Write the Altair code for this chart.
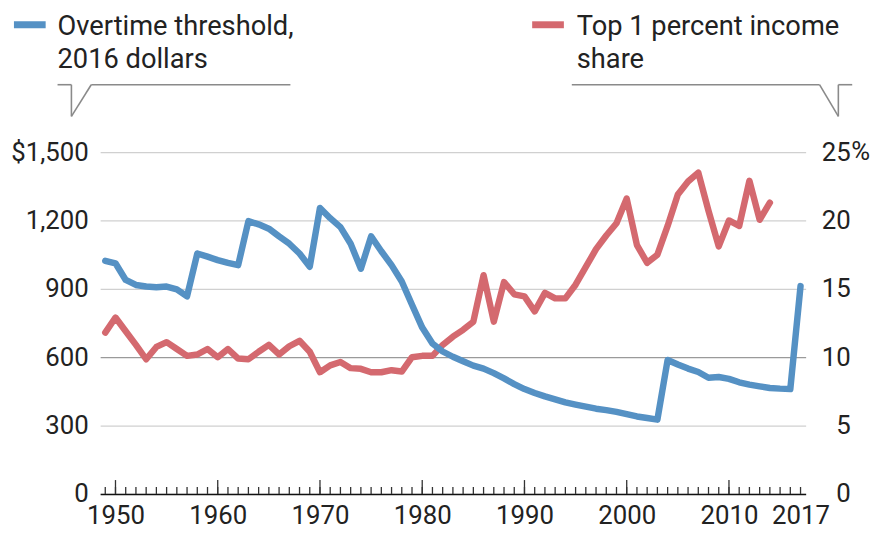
import altair as alt
import pandas as pd

# ---------------- data ----------------
ot_years = list(range(1949, 2018))
overtime = [1023, 1012, 939, 917, 910, 907, 910, 898, 867, 1055,
            1041, 1026, 1014, 1004, 1197, 1183, 1164, 1130, 1098, 1055,
            997, 1255, 1210, 1171, 1098, 988, 1130, 1065, 1004, 932,
            830, 730, 660, 625, 602, 582, 563, 550, 530, 507,
            482, 460, 443, 428, 415, 402, 392, 383, 374, 368,
            360, 350, 340, 333, 326, 588, 568, 550, 535, 510,
            513, 505, 490, 480, 472, 465, 462, 460, 912]

inc_years = list(range(1949, 2015))
income_share = [11.8, 12.9, 11.9, 10.9, 9.85, 10.75, 11.1, 10.6, 10.1, 10.2,
                10.6, 10.0, 10.6, 9.9, 9.85, 10.4, 10.9, 10.2, 10.8, 11.2,
                10.4, 8.9, 9.4, 9.65, 9.2, 9.15, 8.9, 8.9, 9.05, 8.95,
                10.0, 10.1, 10.1, 10.9, 11.5, 12.0, 12.6, 16.0, 12.6, 15.5,
                14.6, 14.45, 13.35, 14.7, 14.3, 14.3, 15.3, 16.6, 17.9, 18.9,
                19.8, 21.6, 18.2, 16.9, 17.5, 19.6, 21.9, 22.85, 23.5, 20.7,
                18.1, 20.0, 19.6, 22.9, 20.05, 21.3]

x_label_years = [1950, 1960, 1970, 1980, 1990, 2000, 2010, 2017]
minor_tick_years = list(range(1949, 2018))
major_tick_years = [1950, 1960, 1970, 1980, 1990, 2000, 2010]
left_ticks = [0, 300, 600, 900, 1200, 1500]
right_ticks = [0, 5, 10, 15, 20, 25]

legend_blue = ["Overtime threshold,", "2016 dollars"]
legend_red = ["Top 1 percent income", "share"]

# ---------------- style ----------------
BLUE = "#5591c4"
RED = "#d4696f"
TEXT = "#222222"
GRID = "#d0d0d0"
CALLOUT = "#8a8a8a"
FONT = "Roboto, sans-serif"
AXSIZE = 26
W, H = 712, 345

ot_df = pd.DataFrame({"year": ot_years, "value": overtime})
inc_df = pd.DataFrame({"year": inc_years, "share": income_share})
minor_df = pd.DataFrame({"year": minor_tick_years})
major_df = pd.DataFrame({"year": major_tick_years})
one = pd.DataFrame({"k": [0]})

xscale = alt.Scale(domain=[1948.5, 2017.5], nice=False, zero=False)
xaxis = alt.Axis(values=x_label_years, format="d", grid=False, ticks=False, tickSize=0,
                 domain=True, domainColor="#111111", domainWidth=1.6,
                 labelFontSize=AXSIZE, labelPadding=9, labelFlush=False,
                 labelFont=FONT, labelColor=TEXT, title=None)

red_line = alt.Chart(inc_df).mark_line(
    color=RED, strokeWidth=6.5, strokeJoin="round", strokeCap="round"
).encode(
    x=alt.X("year:Q", scale=xscale, axis=xaxis),
    y=alt.Y("share:Q", scale=alt.Scale(domain=[0, 25], nice=False, zero=True),
            axis=alt.Axis(orient="right", values=right_ticks, grid=False, domain=False,
                          ticks=False, tickSize=0, labelAlign="right", labelPadding=45,
                          labelFontSize=AXSIZE, labelFont=FONT, labelColor=TEXT, title=None)),
)

blue_line = alt.Chart(ot_df).mark_line(
    color=BLUE, strokeWidth=6.5, strokeJoin="round", strokeCap="round"
).encode(
    x=alt.X("year:Q", scale=xscale, axis=xaxis),
    y=alt.Y("value:Q", scale=alt.Scale(domain=[0, 1500], nice=False, zero=True),
            axis=alt.Axis(orient="left", values=left_ticks, grid=True,
                          gridColor={"condition": {"test": "datum.value === 600", "value": "#9a9a9a"},
                                     "value": GRID},
                          gridWidth=1.3, domain=False, ticks=False, tickSize=0,
                          labelPadding=12, labelFontSize=AXSIZE, labelFont=FONT, labelColor=TEXT,
                          labelExpr="datum.value == 1500 ? '$1,500' : datum.label",
                          title=None)),
)

minor_ticks = alt.Chart(minor_df).mark_rule(color="#333333", strokeWidth=1.3).encode(
    x=alt.X("year:Q", scale=xscale, axis=xaxis),
    y=alt.value(H), y2=alt.value(H - 7),
)
major_ticks = alt.Chart(major_df).mark_rule(color="#333333", strokeWidth=1.3).encode(
    x=alt.X("year:Q", scale=xscale, axis=xaxis),
    y=alt.value(H), y2=alt.value(H - 14),
)


def seg(x1, y1, x2, y2, color=CALLOUT, width=1.6):
    return alt.Chart(one).mark_rule(color=color, strokeWidth=width).encode(
        x=alt.value(x1), x2=alt.value(x2), y=alt.value(y1), y2=alt.value(y2)
    )


def label(lines, x, y, size=27.5, align="left", baseline="alphabetic"):
    return alt.Chart(one).mark_text(
        text=lines, align=align, baseline=baseline, fontSize=size, font=FONT,
        color=TEXT, lineHeight=33
    ).encode(x=alt.value(x), y=alt.value(y))


deco = [
    # left callout
    seg(-43, -68, -29, -68), seg(-29, -68, -29, -36), seg(-29, -36, -9, -68), seg(-9, -68, 192, -68),
    # right callout
    seg(476, -68, 726, -68), seg(726, -68, 745, -36), seg(745, -36, 745, -68), seg(745, -68, 759, -68),
    # legend swatches
    seg(-87, -128.5, -55, -128.5, BLUE, 7),
    seg(436, -128.5, 468, -128.5, RED, 7),
    label(legend_blue, -43, -118),
    label(legend_red, 481, -118),
    # percent sign on the right axis
    alt.Chart(one).mark_text(text="%", align="left", baseline="middle", fontSize=AXSIZE,
                             font=FONT, color=TEXT).encode(x=alt.value(W + 46), y=alt.value(0)),
]

chart = alt.layer(
    red_line, blue_line, minor_ticks, major_ticks, *deco
).resolve_scale(
    y="independent"
).properties(
    width=W, height=H,
    autosize=alt.AutoSizeParams(type="none"),
    padding={"left": 93, "top": 143, "right": 71, "bottom": 37},
).configure_view(stroke=None)

chart.save("out.html", embed_options={"renderer": "svg", "actions": False})
